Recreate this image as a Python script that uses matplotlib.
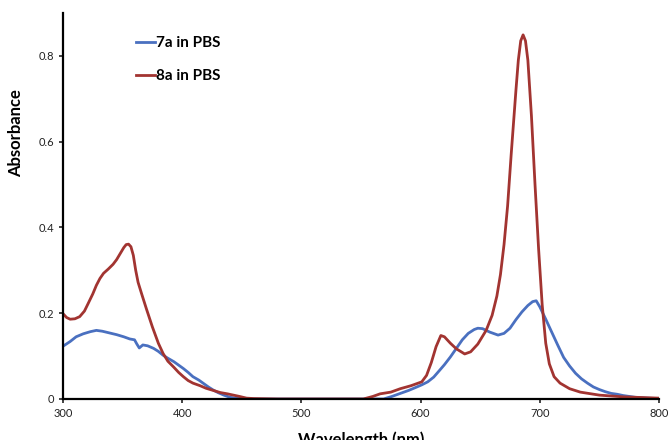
import matplotlib.pyplot as plt

# 7a in PBS
wl_7a = [300, 306, 311, 317, 323, 328, 333, 339, 345, 351, 356, 360, 362, 364, 367, 371, 376, 380,
         384, 388, 393, 397, 401, 405, 409, 414, 418, 422, 426, 430, 435, 440, 445, 450, 460,
         480, 520, 560, 569, 576, 583, 590, 596, 601, 606, 611, 616, 620, 625, 630, 635, 640,
         645, 648, 652, 658, 665, 670, 675, 680, 685, 690, 694, 697, 700, 705, 710, 715, 720,
         725, 730, 735, 740, 745, 750, 755, 760, 765, 770, 780, 790, 800]
abs_7a = [0.123, 0.134, 0.145, 0.152, 0.157, 0.160, 0.158, 0.154, 0.150, 0.145, 0.140, 0.138, 0.128,
          0.119, 0.126, 0.124, 0.118, 0.111, 0.102, 0.095, 0.087, 0.079, 0.071, 0.062, 0.052,
          0.044, 0.036, 0.028, 0.021, 0.015, 0.009, 0.004, 0.002, 0.001, 0.0,
          0.0, 0.0, 0.0, 0.0, 0.006, 0.013, 0.020, 0.027, 0.033, 0.040, 0.051, 0.067, 0.080,
          0.098, 0.118, 0.138, 0.153, 0.162, 0.165, 0.164, 0.156, 0.149, 0.153, 0.165, 0.185,
          0.203, 0.218, 0.227, 0.229, 0.215, 0.186, 0.156, 0.126, 0.097, 0.077, 0.060, 0.047,
          0.037, 0.028, 0.022, 0.017, 0.013, 0.011, 0.008, 0.004, 0.002, 0.001]

# 8a in PBS
wl_8a = [300, 303, 306, 310, 314, 318, 321, 325, 328, 331, 334, 338, 342, 345, 348, 351, 353, 355,
         357, 359, 361, 363, 366, 370, 375, 380, 384, 388, 393, 397, 401, 405, 409, 415, 420,
         426, 432, 438, 443, 448, 454, 460, 480, 520, 552, 560, 566, 575, 583, 592, 601, 605,
         609, 613, 617, 620, 625, 630, 637, 642, 648, 655, 660, 664, 667, 670, 673, 676, 680,
         682, 684, 686, 688, 690, 693, 696, 699, 702, 705, 708, 712, 717, 725, 734, 750, 770, 800]
abs_8a = [0.199, 0.190, 0.186, 0.187, 0.192, 0.205, 0.222, 0.245, 0.265, 0.281, 0.293, 0.303,
          0.314, 0.325, 0.339, 0.353, 0.360, 0.361, 0.355, 0.335, 0.300, 0.272, 0.245, 0.210,
          0.168, 0.130, 0.106, 0.088, 0.074, 0.062, 0.052, 0.043, 0.037, 0.031, 0.025, 0.020,
          0.015, 0.012, 0.009, 0.006, 0.002, 0.001, 0.0, 0.0, 0.0, 0.006, 0.012, 0.016, 0.024,
          0.031, 0.040, 0.055, 0.085, 0.122, 0.148, 0.145, 0.130, 0.117, 0.105, 0.110, 0.128,
          0.160, 0.195, 0.240, 0.290, 0.360, 0.450, 0.570, 0.720, 0.790, 0.835, 0.849, 0.835,
          0.790, 0.660, 0.500, 0.350, 0.220, 0.130, 0.082, 0.052, 0.037, 0.024, 0.016, 0.009, 0.005, 0.002]

plt.rcParams['font.family'] = ['Lato', 'DejaVu Sans']

fig = plt.figure(figsize=(6.68, 4.40), dpi=100)
ax = fig.add_axes([0.0943, 0.0932, 0.8922, 0.8773])

ax.plot(wl_7a, abs_7a, color='#4A70C0', lw=2.0, label='7a in PBS')
ax.plot(wl_8a, abs_8a, color='#A23431', lw=2.0, label='8a in PBS')

ax.set_xlim(300, 800)
ax.set_ylim(0, 0.9)
ax.set_xticks([300, 400, 500, 600, 700, 800])
ax.set_xticklabels(['300', '400', '500', '600', '700', '800'])
ax.set_yticks([0, 0.2, 0.4, 0.6, 0.8])
ax.set_yticklabels(['0', '0.2', '0.4', '0.6', '0.8'])
ax.tick_params(labelsize=8, length=3, width=1.2, direction='out', colors='#222222')

for s in ['top', 'right']:
    ax.spines[s].set_visible(False)
for s in ['left', 'bottom']:
    ax.spines[s].set_linewidth(1.6)

ax.set_xlabel('Wavelength (nm)', fontsize=12, fontweight='bold', labelpad=9)
ax.set_ylabel('Absorbance', fontsize=12, fontweight='bold')
ax.yaxis.set_label_coords(-0.066, 0.69)

ax.legend(loc='upper left', bbox_to_anchor=(0.1, 0.975), frameon=False,
          handlelength=1.2, handletextpad=0.1, labelspacing=1.25,
          prop={'weight': 'bold', 'size': 11})

fig.savefig('out.png', dpi=100)
